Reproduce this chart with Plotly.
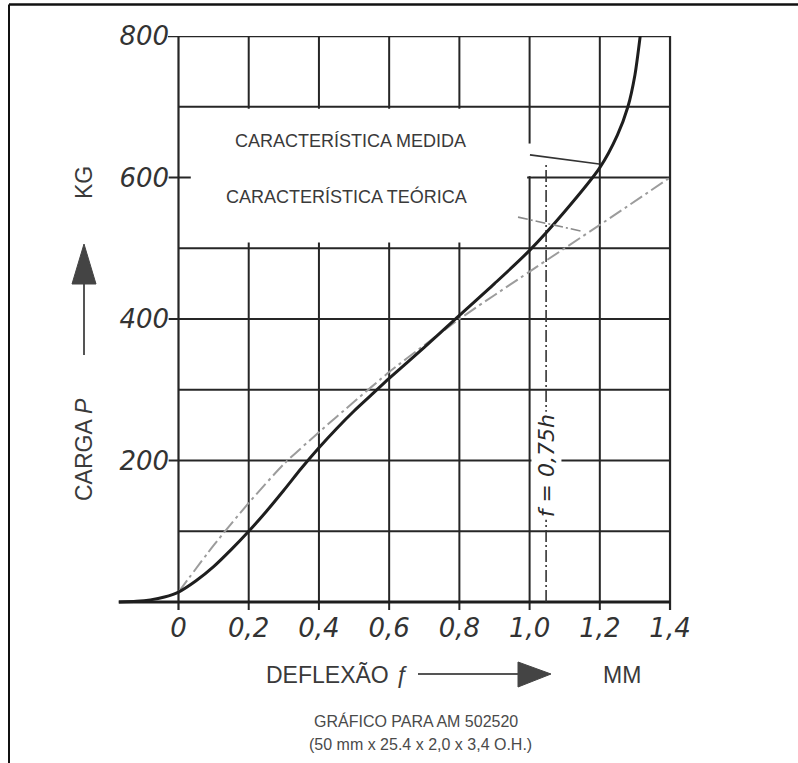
import plotly.graph_objects as go

# ---------------- data ----------------
x_ticks = [0, 0.2, 0.4, 0.6, 0.8, 1.0, 1.2, 1.4]
x_tick_labels = ["0", "0,2", "0,4", "0,6", "0,8", "1,0", "1,2", "1,4"]
y_ticks = [200, 400, 600, 800]
y_tick_labels = ["200", "400", "600", "800"]
y_grid = [100, 200, 300, 400, 500, 600, 700]

# measured characteristic (deflection mm, load kg)
medida_x = [-0.17, -0.12, -0.08, -0.04, 0.0, 0.05, 0.1, 0.15, 0.2, 0.25, 0.3, 0.35, 0.4, 0.45,
            0.5, 0.55, 0.6, 0.7, 0.8, 0.9, 1.0, 1.1, 1.2, 1.25, 1.28, 1.3, 1.315]
medida_y = [0, 1, 3, 7, 14, 30, 50, 74, 100, 128, 158, 189, 218, 245,
            270, 293, 316, 360, 405, 450, 497, 552, 614, 660, 700, 745, 800]

# theoretical characteristic
teorica_x = [0.0, 0.1, 0.2, 0.3, 0.4, 0.5, 0.6, 0.7, 0.8, 1.0, 1.2, 1.4]
teorica_y = [14, 80, 140, 195, 240, 283, 325, 363, 400, 467, 533, 600]

f_limit = 1.047          # f = 0,75h
f_limit_top = 618

W, H = 798, 763
ML, MR, MT, MB = 110, 98, 36, 153
PX_PER_X = 351.1
X_LO = -(178.5 - ML) / PX_PER_X
X_HI = X_LO + (W - ML - MR) / PX_PER_X
Y_LO, Y_HI = -11.3, 800

def px(p):
    return (p - ML) / (W - ML - MR)

def py(p):
    return (H - MB - p) / (H - MT - MB)

GRID = "#262626"
TEXT = "#3a3a3a"

fig = go.Figure()

fig.add_trace(go.Scatter(
    x=teorica_x, y=teorica_y, mode="lines",
    line=dict(color="#9c9c9c", width=2, dash="14px,4px,3px,4px", shape="spline", smoothing=0.6),
    hoverinfo="skip", showlegend=False))
fig.add_trace(go.Scatter(
    x=medida_x, y=medida_y, mode="lines",
    line=dict(color="#1e1e1e", width=3, shape="spline", smoothing=0.7),
    hoverinfo="skip", showlegend=False))

shapes = []
for xv in x_ticks:
    shapes.append(dict(type="line", xref="x", yref="y", x0=xv, x1=xv, y0=Y_LO, y1=Y_HI,
                       line=dict(color=GRID, width=2.2 if xv in (0, 1.4) else 2), layer="below"))
for yv in y_grid:
    shapes.append(dict(type="line", xref="x", yref="y", x0=0, x1=1.4, y0=yv, y1=yv,
                       line=dict(color=GRID, width=2), layer="below"))
shapes.append(dict(type="line", xref="x", yref="y", x0=-0.03, x1=1.4, y0=800, y1=800,
                   line=dict(color=GRID, width=2.5), layer="below"))
for yv in y_ticks:
    shapes.append(dict(type="line", xref="x", yref="y", x0=-0.028, x1=0, y0=yv, y1=yv,
                       line=dict(color=GRID, width=2), layer="below"))
# white label box that interrupts the grid
shapes.append(dict(type="rect", xref="x", yref="y", x0=0.035, x1=0.993, y0=508, y1=697,
                   fillcolor="white", line=dict(width=0), layer="below"))
shapes.append(dict(type="rect", xref="x", yref="y", x0=0.99, x1=1.01, y0=602, y1=648,
                   fillcolor="white", line=dict(width=0), layer="below"))
shapes.append(dict(type="line", xref="x", yref="y", x0=-0.17, x1=1.4, y0=0, y1=0,
                   line=dict(color="#1e1e1e", width=3), layer="below"))
shapes.append(dict(type="line", xref="x", yref="y", x0=f_limit, x1=f_limit, y0=0, y1=f_limit_top,
                   line=dict(color="#333333", width=1.6, dash="12px,3px,2px,3px"), layer="below"))
shapes.append(dict(type="line", xref="x", yref="y", x0=1.001, y0=632, x1=1.198, y1=619,
                   line=dict(color="#333333", width=1.6)))
shapes.append(dict(type="line", xref="x", yref="y", x0=0.967, y0=544, x1=1.149, y1=524,
                   line=dict(color="#8a8a8a", width=1.6, dash="10px,3px,2px,3px")))

# y arrow
shapes.append(dict(type="line", xref="paper", yref="paper", x0=px(84), x1=px(84), y0=py(355), y1=py(280),
                   line=dict(color="#555555", width=2)))
shapes.append(dict(type="path", xref="paper", yref="paper",
                   path=f"M {px(72)} {py(284)} L {px(96)} {py(284)} L {px(84)} {py(244)} Z",
                   fillcolor="#444444", line=dict(color="#444444", width=1)))
# x arrow
shapes.append(dict(type="line", xref="paper", yref="paper", x0=px(418), x1=px(522), y0=py(674), y1=py(674),
                   line=dict(color="#555555", width=2)))
shapes.append(dict(type="path", xref="paper", yref="paper",
                   path=f"M {px(518)} {py(662)} L {px(518)} {py(687)} L {px(551)} {py(674)} Z",
                   fillcolor="#444444", line=dict(color="#444444", width=1)))
# outer frame (top and left)
shapes.append(dict(type="line", xref="paper", yref="paper", x0=px(9), x1=px(798), y0=py(4.5), y1=py(4.5),
                   line=dict(color="#111111", width=2.5)))
shapes.append(dict(type="line", xref="paper", yref="paper", x0=px(9), x1=px(9), y0=py(4.5), y1=py(763),
                   line=dict(color="#111111", width=2)))

sans = "Liberation Sans, Arial, sans-serif"

def note(text, x, y, size, color=TEXT, angle=0, xanchor="center", family=sans, **kw):
    d = dict(text=text, xref="paper", yref="paper", x=px(x), y=py(y), showarrow=False,
             xanchor=xanchor, yanchor="middle", textangle=angle,
             font=dict(family=family, size=size, color=color))
    d.update(kw)
    return d

annotations = [
    note("CARACTERÍSTICA MEDIDA", 350, 141, 18),
    note("CARACTERÍSTICA TEÓRICA", 346, 196, 18),
    dict(text="<i>f</i> = 0,75<i>h</i>", xref="x", yref="y", x=f_limit, y=192, textangle=-90,
         xanchor="center", yanchor="middle",
         showarrow=False, bgcolor="white", borderpad=2,
         font=dict(family="DejaVu Sans", size=22, color="#2a2a2a", style="italic")),
    note("DEFLEXÃO <i>ƒ</i>", 264, 675, 23, xanchor="left"),
    note("MM", 622, 675, 23),
    note("CARGA <i>P</i>", 84, 450, 23, angle=-90),
    note("KG", 84, 183, 23, angle=-90),
    note("GRÁFICO PARA AM 502520", 416, 721, 16, color="#4a4a4a"),
    note("(50 mm x 25.4 x 2,0 x 3,4 O.H.)", 420, 744, 16, color="#4a4a4a"),
]

tickfont = dict(family="DejaVu Sans", size=26, color="#333333", style="italic")
fig.update_layout(
    width=W, height=H,
    margin=dict(l=ML, r=MR, t=MT, b=MB),
    paper_bgcolor="white", plot_bgcolor="white",
    shapes=shapes, annotations=annotations,
    xaxis=dict(range=[X_LO, X_HI], tickvals=x_ticks, ticktext=x_tick_labels,
               showgrid=False, zeroline=False, showline=False, ticks="",
               tickfont=tickfont, fixedrange=True),
    yaxis=dict(range=[Y_LO, Y_HI], tickvals=y_ticks, ticktext=y_tick_labels,
               showgrid=False, zeroline=False, showline=False, ticks="",
               anchor="free", position=px(178.5) - 0.016,
               tickfont=tickfont, fixedrange=True),
    showlegend=False,
)

fig.write_html("out.html", config={"displayModeBar": False},
               post_script="document.body.style.margin='0';")
